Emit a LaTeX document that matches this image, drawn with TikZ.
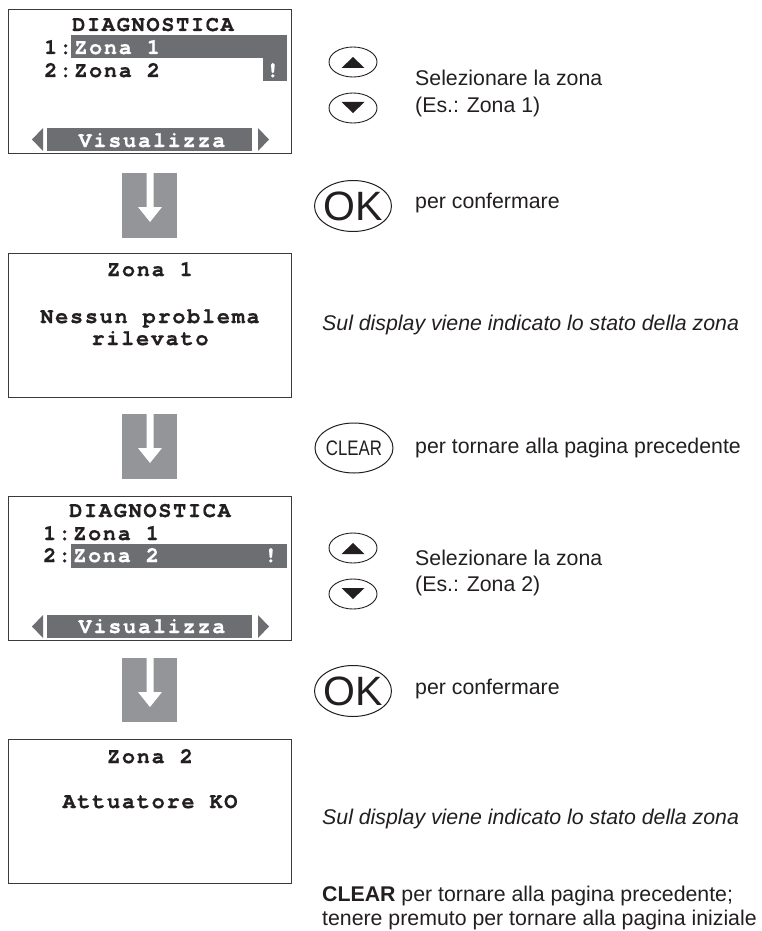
\documentclass[tikz,border=0pt]{standalone}
\usepackage{fontspec}
\setmainfont{Liberation Sans}
\newfontfamily\lcdfont{texgyrecursor-bold}[Extension=.otf, LetterSpace=7.5, FakeBold=0.6]
\usetikzlibrary{shapes.geometric}
\definecolor{scrline}{HTML}{3A3A3C}
\definecolor{hl}{HTML}{6D6E71}
\definecolor{arrowgrey}{HTML}{939598}
\definecolor{ink}{HTML}{231F20}
\tikzset{
  screen/.style={draw=scrline, line width=1.4pt, fill=white, minimum width=283pt, minimum height=144pt, inner sep=0, anchor=north west},
  lcdc/.style={font=\lcdfont\fontsize{22}{22}\selectfont, inner sep=0, anchor=base, text=ink},
  lcdl/.style={font=\lcdfont\fontsize{22}{22}\selectfont, inner sep=0, anchor=base west, text=ink},
  btn/.style={draw=ink, ellipse, line width=0.9pt, minimum width=48pt, minimum height=30pt, inner sep=0},
  bigbtn/.style={draw=ink, ellipse, line width=1pt, minimum width=77pt, minimum height=51pt, inner sep=0},
  txt/.style={font=\fontsize{21.3}{24}\selectfont, inner sep=0, anchor=base west, text=ink},
  itxt/.style={font=\fontsize{21.3}{24}\selectfont\itshape, inner sep=0, anchor=base west, text=ink},
  blockarrow/.style={fill=arrowgrey},
}
\begin{document}
\begin{tikzpicture}[x=1pt,y=-1pt]
\useasboundingbox[fill=white] (0,0) rectangle (761,931);

% ---------- Screen 1 ----------
\node[screen] (s1) at (8,9) {};
\fill[hl] (71,35) rectangle (287,58);
\fill[hl] (263,58) rectangle (287,81);
\fill[hl] (47,128) rectangle (252,151);
\fill[hl] (43,128) -- (43,151) -- (32,139.5) -- cycle;
\fill[hl] (258,128) -- (258,151) -- (269,139.5) -- cycle;
\node[lcdc] (s1title) at (153,31) {DIAGNOSTICA};
\node[lcdl] (s1n1) at (44,54) {1:};
\node[lcdl, text=white] (s1z1) at (74,54) {Zona 1};
\node[lcdl] (s1n2) at (44,77) {2:};
\node[lcdl] (s1z2) at (74,77) {Zona 2};
\node[lcdl, text=white] (s1ex) at (266,77) {!};
\node[lcdc, text=white] (s1vis) at (152,147) {Visualizza};

% ---------- Arrow 1 ----------
\fill[blockarrow] (122,173) rectangle (177,238);
\fill[white] (146.5,173) -- (146.5,207) -- (138,207) -- (150,222) -- (162,207) -- (153.5,207) -- (153.5,173) -- cycle;

% ---------- Screen 2 ----------
\node[screen] (s2) at (8,253) {};
\node[lcdc] (s2title) at (150,276) {Zona 1};
\node[lcdc] (s2l1) at (150,323) {Nessun problema};
\node[lcdc] (s2l2) at (150,345) {rilevato};

% ---------- Arrow 2 ----------
\fill[blockarrow] (122,414) rectangle (177,479);
\fill[white] (146.5,414) -- (146.5,448) -- (138,448) -- (150,463) -- (162,448) -- (153.5,448) -- (153.5,414) -- cycle;

% ---------- Screen 3 ----------
\node[screen] (s3) at (8,496) {};
\fill[hl] (71,544) rectangle (287,568);
\fill[hl] (47,615) rectangle (252,638);
\fill[hl] (43,615) -- (43,638) -- (32,626.5) -- cycle;
\fill[hl] (258,615) -- (258,638) -- (269,626.5) -- cycle;
\node[lcdc] (s3title) at (150,517) {DIAGNOSTICA};
\node[lcdl] (s3n1) at (43,540) {1:};
\node[lcdl] (s3z1) at (73,540) {Zona 1};
\node[lcdl] (s3n2) at (43,562) {2:};
\node[lcdl, text=white] (s3z2) at (73,562) {Zona 2};
\node[lcdl, text=white] (s3ex) at (264,562) {!};
\node[lcdc, text=white] (s3vis) at (152,633) {Visualizza};

% ---------- Arrow 3 ----------
\fill[blockarrow] (122,658) rectangle (177,722);
\fill[white] (146.5,658) -- (146.5,692) -- (138,692) -- (150,707) -- (162,692) -- (153.5,692) -- (153.5,658) -- cycle;

% ---------- Screen 4 ----------
\node[screen] (s4) at (8,739) {};
\node[lcdc] (s4title) at (150,763) {Zona 2};
\node[lcdc] (s4l1) at (150,808) {Attuatore KO};

% ---------- Right column ----------
\node[btn] (up1) at (353,62) {};
\fill[ink] ([yshift=5pt]up1.center) -- ++(11.5,11) -- ++(-23,0) -- cycle;
\node[btn] (dn1) at (353,108) {};
\fill[ink] ([xshift=-11.5pt,yshift=6pt]dn1.center) -- ++(23,0) -- ++(-11.5,11) -- cycle;
\node[txt] (sel1) at (415,86) {Selezionare la zona};
\node[txt] (es1) at (415,113) {(Es.: Zona 1)};

\node[bigbtn] (ok1) at (353,206) {};
\node[inner sep=0, font=\fontsize{41}{41}\selectfont, text=ink] (ok1t) at (ok1.center) {OK};
\node[txt] (conf1) at (415,208) {per confermare};

\node[itxt] (stato1) at (322,330) {Sul display viene indicato lo stato della zona};

\node[draw=ink, ellipse, line width=1pt, minimum width=78pt, minimum height=50pt, inner sep=0] (clr) at (354,448) {};
\node[inner sep=0, font=\fontsize{21}{21}\selectfont, text=ink, xscale=0.8] (clrt) at (clr.center) {CLEAR};
\node[txt] (torn1) at (415,453) {per tornare alla pagina precedente};

\node[btn] (up2) at (353,548) {};
\fill[ink] ([yshift=5pt]up2.center) -- ++(11.5,11) -- ++(-23,0) -- cycle;
\node[btn] (dn2) at (353,594) {};
\fill[ink] ([xshift=-11.5pt,yshift=6pt]dn2.center) -- ++(23,0) -- ++(-11.5,11) -- cycle;
\node[txt] (sel2) at (415,565) {Selezionare la zona};
\node[txt] (es2) at (415,591) {(Es.: Zona 2)};

\node[bigbtn] (ok2) at (353,691) {};
\node[inner sep=0, font=\fontsize{41}{41}\selectfont, text=ink] (ok2t) at (ok2.center) {OK};
\node[txt] (conf2) at (415,694) {per confermare};

\node[itxt] (stato2) at (322,824) {Sul display viene indicato lo stato della zona};

\node[txt] (clr1) at (322,901) {\textbf{CLEAR} per tornare alla pagina precedente;};
\node[txt] (clr2) at (322,925) {tenere premuto per tornare alla pagina iniziale};
\end{tikzpicture}
\end{document}
